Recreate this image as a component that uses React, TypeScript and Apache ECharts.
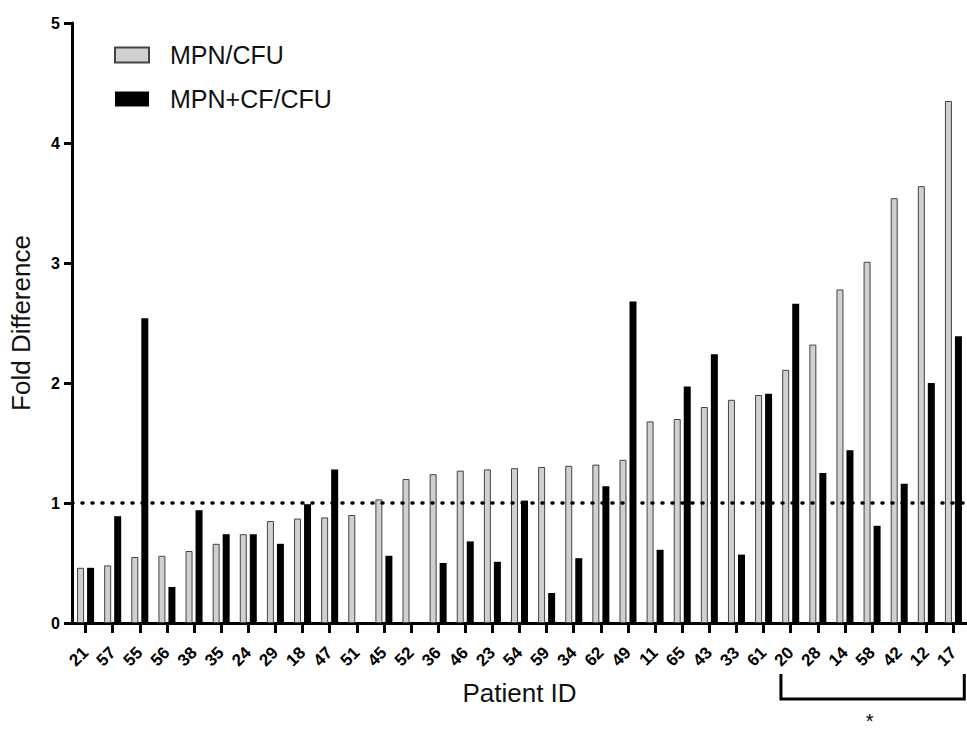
import React, { useEffect, useRef } from "react";
import * as echarts from "echarts";

const patientIds = ["21","57","55","56","38","35","24","29","18","47","51","45","52","36","46","23","54","59","34","62","49","11","65","43","33","61","20","28","14","58","42","12","17"];
const mpnCfu = [0.46,0.48,0.55,0.56,0.60,0.66,0.74,0.85,0.87,0.88,0.90,1.03,1.20,1.24,1.27,1.28,1.29,1.30,1.31,1.32,1.36,1.68,1.70,1.80,1.86,1.90,2.11,2.32,2.78,3.01,3.54,3.64,4.35];
const mpnCfCfu = [0.46,0.89,2.54,0.30,0.94,0.74,0.74,0.66,0.99,1.28,0,0.56,0,0.50,0.68,0.51,1.02,0.25,0.54,1.14,2.68,0.61,1.97,2.24,0.57,1.91,2.66,1.25,1.44,0.81,1.16,2.00,2.39];
const yTicks = [0, 1, 2, 3, 4, 5];
const bracketFrom = "20";
const bracketTo = "17";
const threshold = 1;

const FONT = "'Liberation Sans', Arial, sans-serif";

export default function App() {
  const ref = useRef<HTMLDivElement>(null);
  useEffect(() => {
    if (!ref.current) return;
    const chart = echarts.init(ref.current, undefined, { renderer: "svg" });
    chart.setOption({
      animation: false,
      backgroundColor: "#ffffff",
      textStyle: { fontFamily: FONT },
      grid: { left: 70, right: 0, top: 23, bottom: 109, containLabel: false },
      legend: {
        orient: "vertical",
        left: 114,
        top: 40,
        padding: 0,
        itemWidth: 34,
        itemHeight: 15,
        itemGap: 14,
        icon: "rect",
        textStyle: { fontSize: 25, color: "#111", fontFamily: FONT, lineHeight: 30, padding: [0, 0, 0, 16] },
        data: ["MPN/CFU", "MPN+CF/CFU"],
      },
      xAxis: {
        type: "category",
        data: patientIds,
        name: "Patient ID",
        nameLocation: "middle",
        nameGap: 57,
        nameTextStyle: { fontSize: 26, color: "#111", fontFamily: FONT },
        axisLine: { lineStyle: { color: "#000", width: 3 } },
        axisTick: { show: true, alignWithLabel: true, length: 10, lineStyle: { color: "#000", width: 3 }, interval: 0 },
        axisLabel: { interval: 0, rotate: 45, fontSize: 17, fontWeight: "bold", color: "#000", margin: 27, fontFamily: FONT },
        splitLine: { show: false },
      },
      yAxis: {
        type: "value",
        min: yTicks[0],
        max: yTicks[yTicks.length - 1],
        interval: 1,
        name: "Fold Difference",
        nameLocation: "middle",
        nameGap: 38,
        nameTextStyle: { fontSize: 26, color: "#111", fontFamily: FONT },
        axisLine: { show: true, lineStyle: { color: "#000", width: 3 } },
        axisTick: { show: true, length: 8, lineStyle: { color: "#000", width: 3 } },
        axisLabel: { fontSize: 16, fontWeight: "bold", color: "#000", margin: 12, fontFamily: FONT },
        splitLine: { show: false },
      },
      series: [
        {
          name: "MPN/CFU",
          type: "bar",
          data: mpnCfu,
          barWidth: 7,
          barGap: "43%",
          itemStyle: { color: "#d0d0d0", borderColor: "#444", borderWidth: 1 },
          markLine: {
            silent: true,
            symbol: "none",
            label: { show: false },
            lineStyle: { color: "#000", width: 3.5, type: [1, 9], cap: "round" },
            data: [{ yAxis: threshold }],
          },
        },
        {
          name: "MPN+CF/CFU",
          type: "bar",
          data: mpnCfCfu,
          barWidth: 7,
          itemStyle: { color: "#000", borderColor: "#000", borderWidth: 0 },
        },
      ],
    });

    const i1 = patientIds.indexOf(bracketFrom);
    const i2 = patientIds.indexOf(bracketTo);
    const p1 = chart.convertToPixel({ xAxisIndex: 0 }, patientIds[i1]) as number;
    const p0 = chart.convertToPixel({ xAxisIndex: 0 }, patientIds[0]) as number;
    const pN = chart.convertToPixel({ xAxisIndex: 0 }, patientIds[1]) as number;
    const p2 = chart.convertToPixel({ xAxisIndex: 0 }, patientIds[i2]) as number;
    const band = pN - p0;
    const yBase = chart.convertToPixel({ yAxisIndex: 0 }, 0) as number;
    const x1 = p1 - band * 0.36;
    const x2 = p2 + band * 0.4;
    const yTop = yBase + 51;
    const yBot = yBase + 76;
    chart.setOption({
      graphic: [
        {
          type: "polyline",
          shape: { points: [[x1, yTop], [x1, yBot], [x2, yBot], [x2, yTop]] },
          style: { stroke: "#000", lineWidth: 3, fill: null },
        },
        {
          type: "text",
          x: (x1 + x2) / 2 - 3,
          y: yBot + 32,
          style: { text: "*", fontSize: 20, fill: "#000", textAlign: "center", textVerticalAlign: "bottom", fontFamily: FONT },
        },
      ],
    });
    return () => chart.dispose();
  }, []);
  return <div ref={ref} style={{ position: "absolute", left: 0, top: 0, width: 967, height: 732 }} />;
}
